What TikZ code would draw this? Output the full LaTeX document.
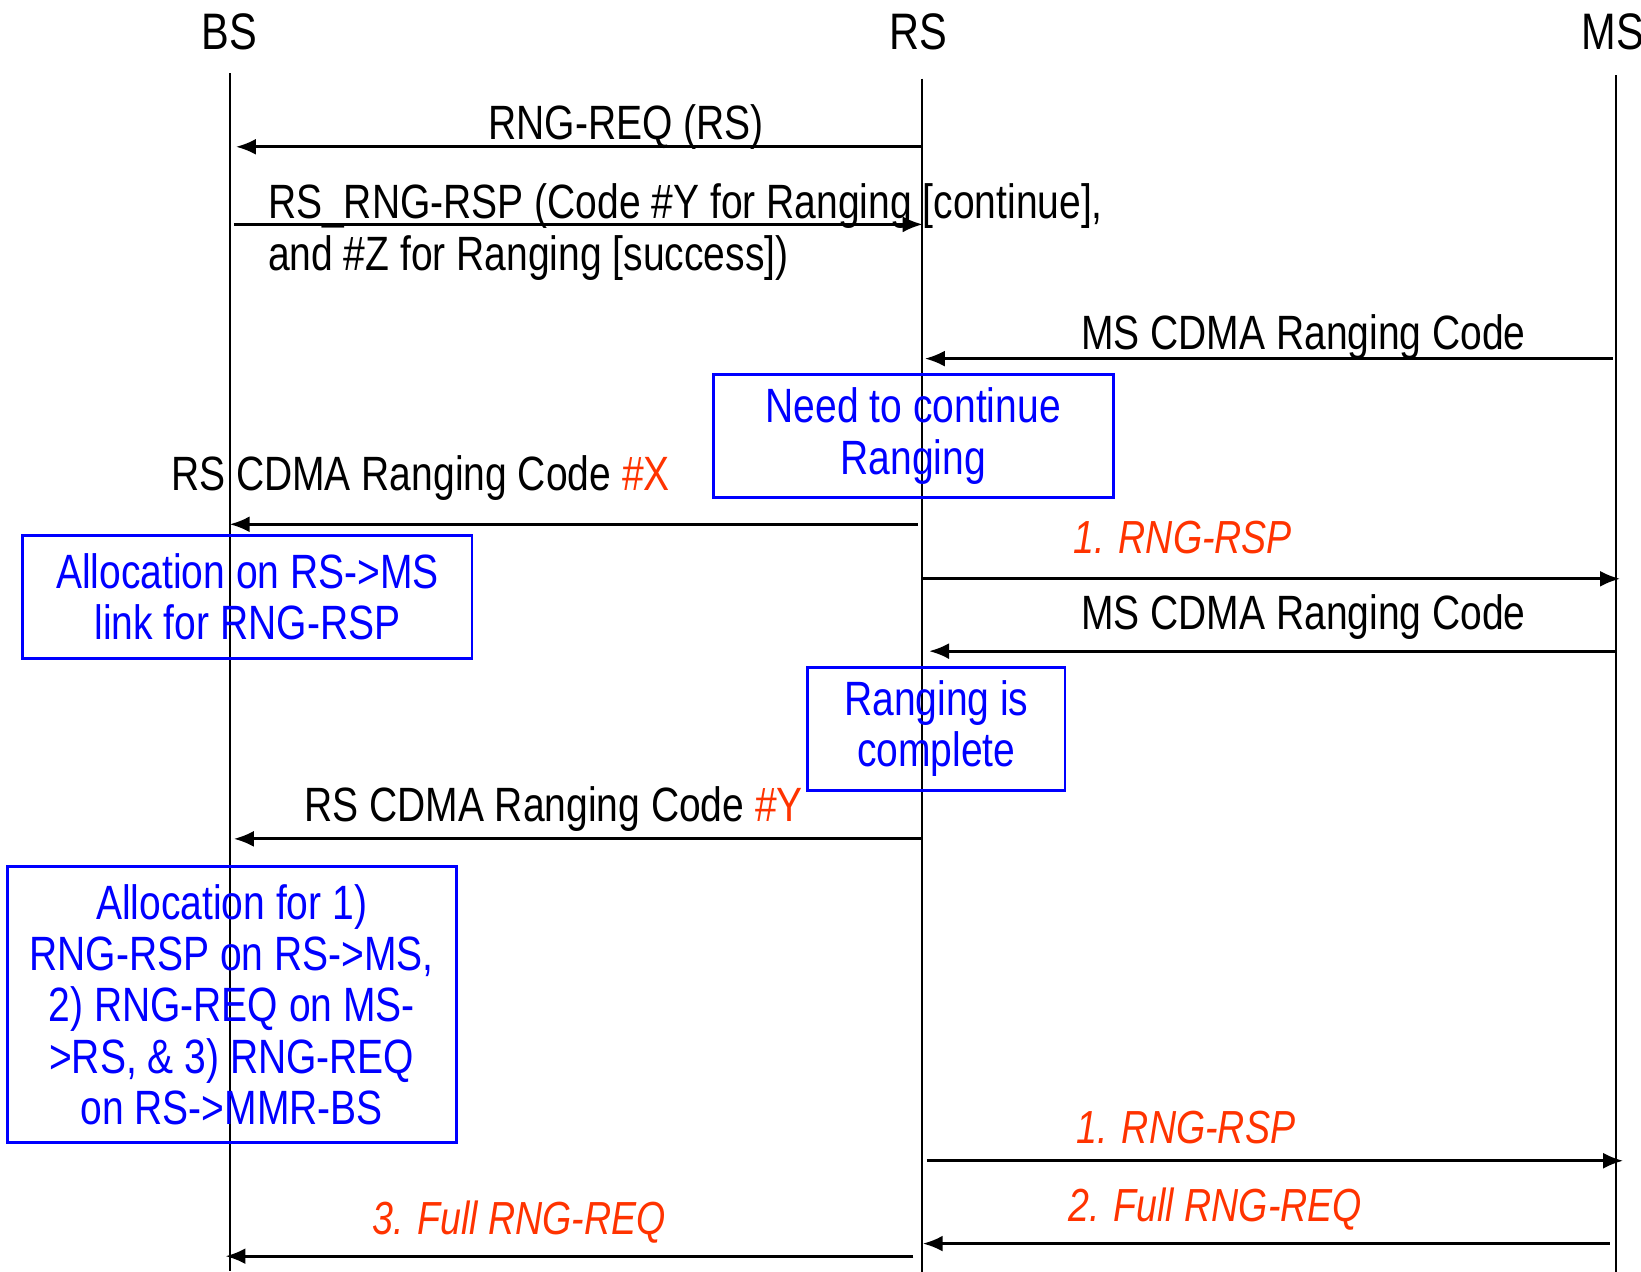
\documentclass[tikz,border=0pt]{standalone}
\usepackage{fontspec}
\setmainfont{Liberation Sans}[FakeStretch=0.81]
\usetikzlibrary{arrows.meta}
\definecolor{codered}{RGB}{255,51,0}
\definecolor{noteblue}{RGB}{0,0,255}

\begin{document}
\begin{tikzpicture}
	[x=0.01048cm, y=-0.01048cm, >={Latex[length=2mm,width=1.6mm]},
	life/.style={line width=0.5pt},
	msg/.style={->, line width=0.8pt},
	head/.style={anchor=base, inner sep=0pt, font=\fontsize{14.6}{15.6}\selectfont},
	lbl/.style={anchor=base, inner sep=0pt, font=\fontsize{13.7}{14.9}\selectfont},
	red/.style={lbl, text=codered, font=\fontsize{13.2}{14.4}\selectfont\itshape},
	note/.style={draw=noteblue, line width=0.8pt, text=noteblue, align=center,
		inner sep=0pt, font=\fontsize{13.7}{14.6}\selectfont}]
\useasboundingbox (0,0) rectangle (1565,1213);

% entities
\node[head](bs) at (219,47) {BS};
\node[head](rs) at (876,47) {RS};
\node[head](ms) at (1538,47) {MS};

\coordinate (bs_top) at (219,70);  \coordinate (bs_bot) at (219,1212);
\coordinate (rs_top) at (879,75);  \coordinate (rs_bot) at (879,1215);
\coordinate (ms_top) at (1541,72); \coordinate (ms_bot) at (1541,1213);
\draw[life] (bs_top) -- (bs_bot);
\draw[life] (rs_top) -- (rs_bot);
\draw[life] (ms_top) -- (ms_bot);

% notes
\node[note, minimum width=4.00cm, minimum height=1.23cm](cont) at (871,416)
	{Need to continue\\Ranging};
\node[note, minimum width=4.49cm, minimum height=1.23cm](alloc1) at (236,569)
	{Allocation on RS->MS\\link for RNG-RSP};
\node[note, minimum width=2.57cm, minimum height=1.23cm](done) at (893,695)
	{Ranging is\\complete};
\node[note, minimum width=4.49cm, minimum height=2.76cm](alloc2) at (221,958)
	{Allocation for 1)\\RNG-RSP on RS->MS,\\2) RNG-REQ on MS-\\>RS, \& 3) RNG-REQ\\on RS->MMR-BS};

% messages
\coordinate (m1a) at (880,140);  \coordinate (m1b) at (225,140);
\coordinate (m2a) at (223,214);  \coordinate (m2b) at (880,214);
\coordinate (m3a) at (1538,342); \coordinate (m3b) at (882,342);
\coordinate (m4a) at (875,500);  \coordinate (m4b) at (219,500);
\coordinate (m5a) at (880,552);  \coordinate (m5b) at (1545,552);
\coordinate (m6a) at (1541,621); \coordinate (m6b) at (886,621);
\coordinate (m7a) at (878,800);  \coordinate (m7b) at (223,800);
\coordinate (m8a) at (884,1107); \coordinate (m8b) at (1548,1107);
\coordinate (m9a) at (1535,1186); \coordinate (m9b) at (880,1186);
\coordinate (m10a) at (871,1198); \coordinate (m10b) at (215,1198);

\draw[msg] (m1a) -- (m1b);
\draw[msg] (m2a) -- (m2b);
\draw[msg] (m3a) -- (m3b);
\draw[msg] (m4a) -- (m4b);
\draw[msg] (m5a) -- (m5b);
\draw[msg] (m6a) -- (m6b);
\draw[msg] (m7a) -- (m7b);
\draw[msg] (m8a) -- (m8b);
\draw[msg] (m9a) -- (m9b);
\draw[msg] (m10a) -- (m10b);

% labels
\node[lbl](l1) at (597,133) {RNG-REQ (RS)};
\node[lbl, anchor=base west, align=left](l2) at (255,258)
	{RS\_RNG-RSP (Code \#Y for Ranging [continue],\\and \#Z for Ranging [success])};
\node[lbl](l3) at (1243,333) {MS CDMA Ranging Code};
\node[lbl](l4) at (401,468) {RS CDMA Ranging Code {\color{codered}\#X}};
\node[red](l5) at (1128,528) {1. RNG-RSP};
\node[lbl](l6) at (1243,600) {MS CDMA Ranging Code};
\node[lbl](l7) at (528,783) {RS CDMA Ranging Code {\color{codered}\#Y}};
\node[red](l8) at (1131,1091) {1. RNG-RSP};
\node[red](l9) at (1159,1165) {2. Full RNG-REQ};
\node[red](l10) at (495,1177) {3. Full RNG-REQ};

\end{tikzpicture}
\end{document}
